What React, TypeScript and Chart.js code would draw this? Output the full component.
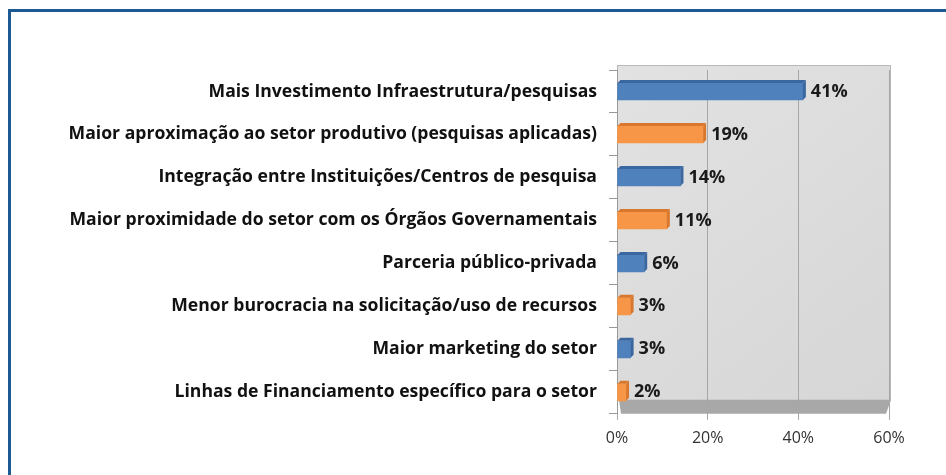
import React, { useEffect, useRef } from "react";
import { Chart, registerables } from "chart.js";

Chart.register(...registerables);

const categories = [
  "Mais Investimento Infraestrutura/pesquisas",
  "Maior aproximação ao setor produtivo (pesquisas aplicadas)",
  "Integração entre Instituições/Centros de pesquisa",
  "Maior proximidade do setor com os Órgãos Governamentais",
  "Parceria público-privada",
  "Menor burocracia na solicitação/uso de recursos",
  "Maior marketing do setor",
  "Linhas de Financiamento específico para o setor",
];
const values = [41, 19, 14, 11, 6, 3, 3, 2];
const xTicks = [0, 20, 40, 60];

const BLUE = "#4f81bd";
const BLUE_DARK = "#3b67a0";
const ORANGE = "#f79646";
const ORANGE_DARK = "#d9782d";
const FONT = "'Open Sans', Lato, sans-serif";

const wallPlugin = {
  id: "wall",
  beforeDraw(chart: any) {
    const { ctx, chartArea } = chart;
    const { left, right, top, bottom } = chartArea;
    ctx.save();
    const g = ctx.createLinearGradient(left, top, right, bottom);
    g.addColorStop(0, "#e2e2e2");
    g.addColorStop(1, "#d6d6d6");
    ctx.fillStyle = g;
    ctx.fillRect(left, top - 5, right - left + 2, bottom - top - 9);
    ctx.strokeStyle = "#b8b8b8";
    ctx.lineWidth = 1;
    ctx.strokeRect(left + 0.5, top - 4.5, right - left + 1, bottom - top - 9);
    // floor
    ctx.fillStyle = "#a8a8a8";
    ctx.beginPath();
    ctx.moveTo(left + 2, bottom - 14);
    ctx.lineTo(right + 2, bottom - 14);
    ctx.lineTo(right - 3, bottom);
    ctx.lineTo(left + 4, bottom);
    ctx.closePath();
    ctx.fill();
    ctx.restore();
  },
};

const barPlugin = {
  id: "bar3d",
  afterDatasetsDraw(chart: any) {
    const { ctx } = chart;
    const meta = chart.getDatasetMeta(0);
    ctx.save();
    meta.data.forEach((bar: any, i: number) => {
      const h = bar.height;
      const x0 = bar.base;
      const x1 = bar.x;
      const yTop = bar.y - h / 2;
      const yBot = bar.y + h / 2;
      const d = 3;
      ctx.fillStyle = i % 2 === 0 ? BLUE_DARK : ORANGE_DARK;
      ctx.beginPath();
      ctx.moveTo(x0, yTop);
      ctx.lineTo(x1, yTop);
      ctx.lineTo(x1 + d, yTop - d);
      ctx.lineTo(x0 + d, yTop - d);
      ctx.closePath();
      ctx.fill();
      ctx.beginPath();
      ctx.moveTo(x1, yTop);
      ctx.lineTo(x1 + d, yTop - d);
      ctx.lineTo(x1 + d, yBot - d);
      ctx.lineTo(x1, yBot);
      ctx.closePath();
      ctx.fill();
      ctx.fillStyle = "#1a1a1a";
      ctx.font = `bold 18px ${FONT}`;
      ctx.textBaseline = "middle";
      ctx.textAlign = "left";
      ctx.fillText(values[i] + "%", x1 + 8, bar.y);
    });
    ctx.restore();
  },
};

export default function App() {
  const ref = useRef<HTMLCanvasElement>(null);
  useEffect(() => {
    if (!ref.current) return;
    const chart = new Chart(ref.current, {
      type: "bar",
      data: {
        labels: categories,
        datasets: [
          {
            data: values,
            backgroundColor: values.map((_, i) => (i % 2 === 0 ? BLUE : ORANGE)),
            barThickness: 17,
          },
        ],
      },
      options: {
        indexAxis: "y",
        animation: false,
        responsive: false,
        layout: { padding: { left: 0, right: 57, top: 70, bottom: 18 } },
        plugins: { legend: { display: false }, tooltip: { enabled: false } },
        scales: {
          x: {
            min: 0,
            max: 60,
            afterBuildTicks: (scale: any) => {
              scale.ticks = xTicks.map((v) => ({ value: v }));
            },
            ticks: {
              callback: (v: any) => v + "%",
              color: "#333",
              font: { family: FONT, size: 16 },
              padding: 9,
            },
            grid: { color: "#a6a6a6", tickLength: 6 },
            border: { display: false },
          },
          y: {
            afterFit: (scale: any) => {
              scale.width = 617;
            },
            ticks: {
              color: "#111",
              font: { family: FONT, size: 17.6, weight: "bold" },
              padding: 12,
            },
            grid: { drawOnChartArea: false, color: "#999", tickLength: 8 },
            border: { color: "#999" },
          },
        },
      },
      plugins: [wallPlugin, barPlugin],
    });
    return () => chart.destroy();
  }, []);
  return (
    <div style={{ position: "fixed", left: 0, top: 0, width: 946, height: 475, overflow: "hidden", background: "#fff" }}>
      <div
        style={{
          position: "absolute",
          left: 8,
          top: 9,
          width: 1200,
          height: 1000,
          border: "3px solid #1d5a94",
          boxSizing: "border-box",
        }}
      />
      <canvas ref={ref} width={946} height={475} style={{ position: "absolute", left: 0, top: 0 }} />
    </div>
  );
}
